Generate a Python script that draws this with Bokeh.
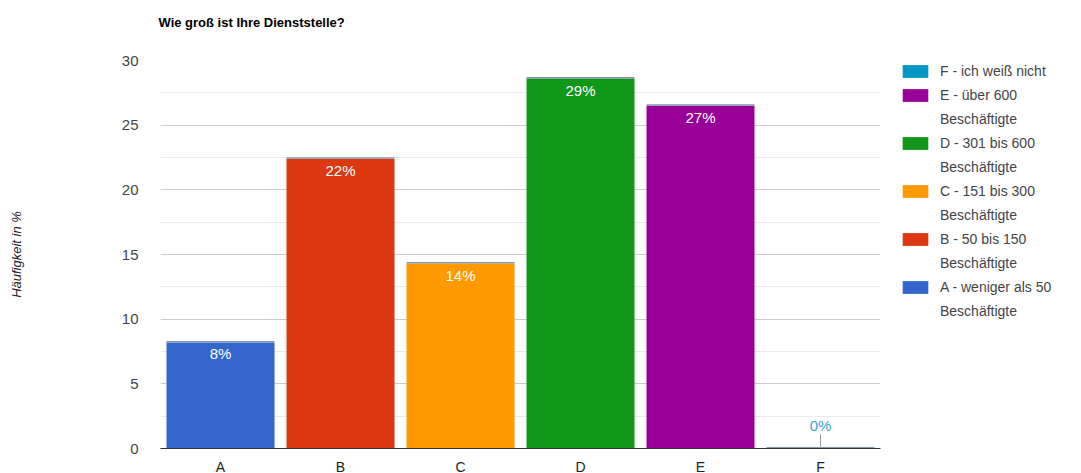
from bokeh.plotting import figure
from bokeh.models import ColumnDataSource, Legend, LegendItem, SingleIntervalTicker, Range1d, FactorRange
from bokeh.embed import file_html
from bokeh.resources import INLINE
from bokeh.core.properties import value

categories = ["A", "B", "C", "D", "E", "F"]
values = [8.2, 22.4, 14.3, 28.6, 26.5, 0.0]
pct_labels = ["8%", "22%", "14%", "29%", "27%", "0%"]
colors = ["#3366cc", "#dc3912", "#ff9900", "#109618", "#990099", "#0099c6"]
legend_first = [
    "A - weniger als 50",
    "B - 50 bis 150",
    "C - 151 bis 300",
    "D - 301 bis 600",
    "E - über 600",
    "F - ich weiß nicht",
]
legend_second = ["Beschäftigte", "Beschäftigte", "Beschäftigte", "Beschäftigte", "Beschäftigte", ""]
title_text = "Wie groß ist Ihre Dienststelle?"

FONT = "Liberation Sans"
EDGE = 0.12  # thickness of the thin cap line, in axis units

p = figure(width=1081, height=473, x_range=FactorRange(*categories, range_padding=0),
           y_range=Range1d(0, 30), output_backend="svg", toolbar_location=None,
           frame_width=720, frame_height=388,
           min_border_left=160, min_border_right=201, min_border_top=60, min_border_bottom=25)
p.outline_line_color = None
p.background_fill_color = "white"
p.border_fill_color = "white"

p.title.text = title_text + "\n"
p.title.text_font = FONT
p.title.text_font_size = "13px"
p.title.text_font_style = "bold"
p.title.text_color = "#000000"
p.title.align = "left"
p.title.vertical_align = "top"
p.title.offset = -2
p.title.standoff = 28

renderers = []
for i, c in enumerate(categories):
    s = ColumnDataSource(dict(cat=[c], val=[values[i]], cap=[values[i] + EDGE]))
    r = p.vbar(x="cat", top="val", width=0.9, source=s, fill_color=colors[i], line_color=None)
    renderers.append(r)
    p.vbar(x="cat", bottom="val", top="cap", width=0.9, source=s,
           fill_color="#8497a8", line_color=None)

# invisible renderer for legend continuation lines
blank = p.vbar(x=[], top=[], width=0.9, fill_alpha=0, line_alpha=0)

inside = ColumnDataSource(dict(cat=categories[:5], val=values[:5], lab=pct_labels[:5]))
p.text(x="cat", y="val", text="lab", source=inside, text_align="center", text_baseline="top",
       y_offset=3, text_color="white", text_font=value(FONT), text_font_size="15px")

fsrc = ColumnDataSource(dict(cat=[categories[5]], val=[values[5]], lab=[pct_labels[5]],
                             lead=[values[5] + 1.1]))
p.segment(x0="cat", y0="val", x1="cat", y1="lead", source=fsrc, line_color="#999999", line_width=1)
p.text(x="cat", y="val", text="lab", source=fsrc, text_align="center", text_baseline="bottom",
       y_offset=-15, text_color="#3aa6d4", text_font=value(FONT), text_font_size="15px")

p.yaxis.ticker = SingleIntervalTicker(interval=5, num_minor_ticks=2)
p.yaxis.axis_line_color = None
p.yaxis.major_tick_line_color = None
p.yaxis.minor_tick_line_color = None
p.yaxis.major_label_text_font = FONT
p.yaxis.major_label_text_font_size = "15px"
p.yaxis.major_label_text_color = "#444444"
p.yaxis.major_label_standoff = 16
p.yaxis.axis_label = "Häufigkeit in %"
p.yaxis.axis_label_text_font = FONT
p.yaxis.axis_label_text_font_size = "13px"
p.yaxis.axis_label_text_font_style = "italic"
p.yaxis.axis_label_text_color = "#222222"
p.yaxis.axis_label_standoff = 95

p.xaxis.axis_line_color = "#333333"
p.xaxis.major_tick_line_color = None
p.xaxis.minor_tick_line_color = None
p.xaxis.major_label_text_font = FONT
p.xaxis.major_label_text_font_size = "14px"
p.xaxis.major_label_text_color = "#222222"
p.xaxis.major_label_standoff = 4

p.xgrid.grid_line_color = None
p.ygrid.grid_line_color = "#cccccc"
p.ygrid.minor_grid_line_color = "#ebebeb"

items = []
for i in range(5, -1, -1):
    items.append(LegendItem(label=legend_first[i], renderers=[renderers[i]]))
    if legend_second[i]:
        items.append(LegendItem(label=legend_second[i], renderers=[blank]))
legend = Legend(items=items, location=(19, 125), border_line_color=None,
                background_fill_alpha=0, label_text_font=FONT, label_text_font_size="14px",
                label_text_color="#444444",
                glyph_width=32, glyph_height=16, spacing=0,
                padding=0, margin=0, label_standoff=9, label_height=24)
p.add_layout(legend, "right")

open("out.html", "w").write(file_html(p, INLINE))
